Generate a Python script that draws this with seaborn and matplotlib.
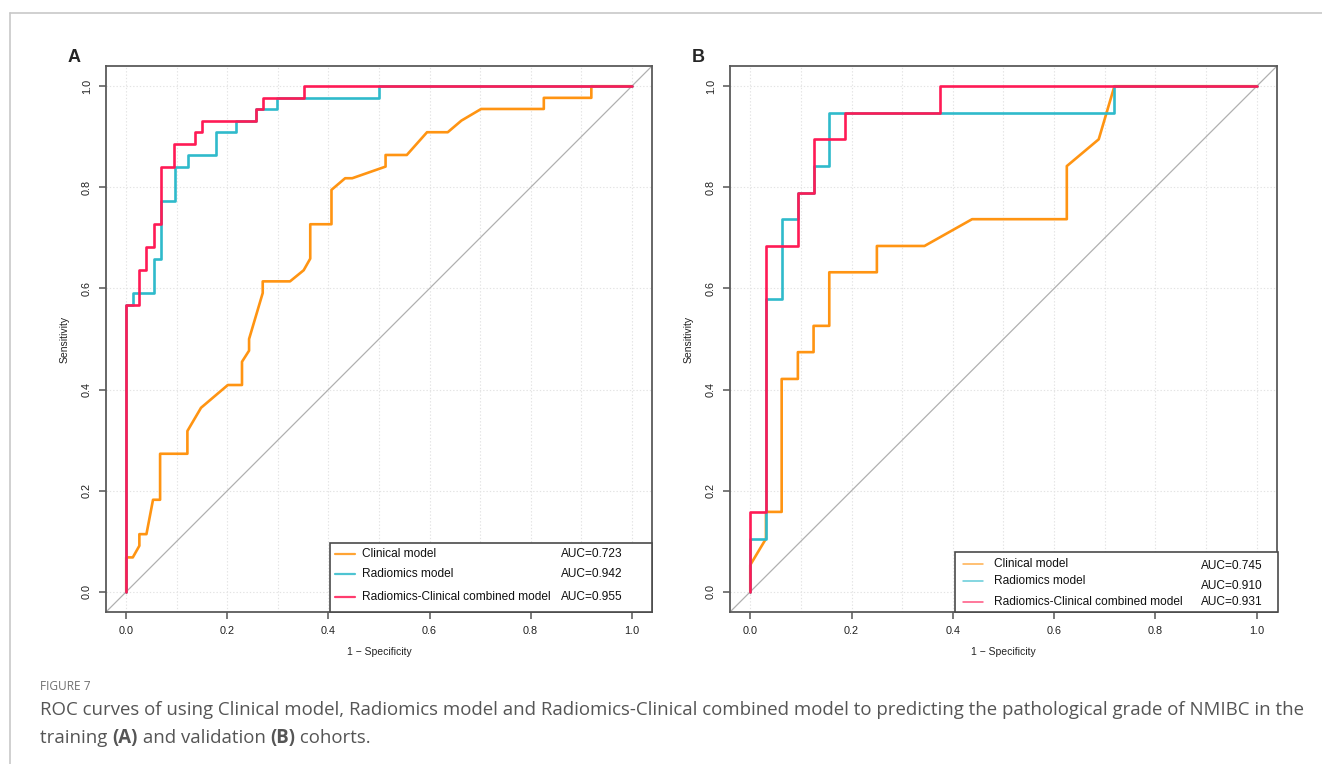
import numpy as np
import pandas as pd
import matplotlib
matplotlib.use("Agg")
import matplotlib.pyplot as plt
from matplotlib.patches import Rectangle
from matplotlib.lines import Line2D
import seaborn as sns

# ---------------- ROC data: training cohort ----------------
train_clin_fpr = [0, 0, 0.013, 0.026, 0.026, 0.040, 0.053, 0.067, 0.067, 0.121, 0.121, 0.148,
                  0.201, 0.229, 0.229, 0.243, 0.243, 0.270, 0.270, 0.324, 0.351, 0.364, 0.364,
                  0.406, 0.406, 0.433, 0.447, 0.513, 0.513, 0.555, 0.595, 0.636, 0.663, 0.702,
                  0.826, 0.826, 0.920, 0.920, 1.0]
train_clin_tpr = [0, 0.068, 0.068, 0.091, 0.114, 0.114, 0.182, 0.182, 0.273, 0.273, 0.318, 0.364,
                  0.409, 0.409, 0.455, 0.477, 0.500, 0.591, 0.614, 0.614, 0.636, 0.659, 0.727,
                  0.727, 0.795, 0.818, 0.818, 0.841, 0.864, 0.864, 0.909, 0.909, 0.932, 0.955,
                  0.955, 0.977, 0.977, 1.0, 1.0]

train_rad_fpr = [0, 0, 0.014, 0.014, 0.055, 0.055, 0.068, 0.068, 0.096, 0.096, 0.122, 0.122,
                 0.177, 0.177, 0.217, 0.217, 0.257, 0.257, 0.298, 0.298, 0.500, 0.500, 1.0]
train_rad_tpr = [0, 0.568, 0.568, 0.591, 0.591, 0.659, 0.659, 0.773, 0.773, 0.841, 0.841, 0.864,
                 0.864, 0.909, 0.909, 0.932, 0.932, 0.955, 0.955, 0.977, 0.977, 1.0, 1.0]

train_comb_fpr = [0, 0, 0.026, 0.026, 0.040, 0.040, 0.054, 0.054, 0.068, 0.068, 0.095, 0.095,
                  0.136, 0.136, 0.150, 0.150, 0.256, 0.256, 0.270, 0.270, 0.351, 0.351, 1.0]
train_comb_tpr = [0, 0.568, 0.568, 0.636, 0.636, 0.682, 0.682, 0.727, 0.727, 0.841, 0.841, 0.886,
                  0.886, 0.909, 0.909, 0.932, 0.932, 0.955, 0.955, 0.977, 0.977, 1.0, 1.0]

# ---------------- ROC data: validation cohort ----------------
valid_clin_fpr = [0, 0, 0.031, 0.031, 0.062, 0.062, 0.094, 0.094, 0.125, 0.125, 0.156, 0.156,
                  0.250, 0.250, 0.344, 0.438, 0.625, 0.625, 0.688, 0.719, 1.0]
valid_clin_tpr = [0, 0.053, 0.105, 0.158, 0.158, 0.421, 0.421, 0.474, 0.474, 0.526, 0.526, 0.632,
                  0.632, 0.684, 0.684, 0.737, 0.737, 0.842, 0.895, 1.0, 1.0]

valid_rad_fpr = [0, 0, 0.031, 0.031, 0.062, 0.062, 0.094, 0.094, 0.125, 0.125, 0.156, 0.156,
                 0.719, 0.719, 1.0]
valid_rad_tpr = [0, 0.105, 0.105, 0.579, 0.579, 0.737, 0.737, 0.789, 0.789, 0.842, 0.842, 0.947,
                 0.947, 1.0, 1.0]

valid_comb_fpr = [0, 0, 0.031, 0.031, 0.094, 0.094, 0.125, 0.125, 0.188, 0.188, 0.375, 0.375, 1.0]
valid_comb_tpr = [0, 0.158, 0.158, 0.684, 0.684, 0.789, 0.789, 0.895, 0.895, 0.947, 0.947, 1.0, 1.0]

model_names = ["Clinical model", "Radiomics model", "Radiomics-Clinical combined model"]
train_auc = [0.723, 0.942, 0.955]
valid_auc = [0.745, 0.910, 0.931]

palette = {"Clinical model": "#FF9412",
           "Radiomics model": "#2FBACB",
           "Radiomics-Clinical combined model": "#FF1A55"}


def roc_frame(curves):
    parts = []
    for name, (fpr, tpr) in zip(model_names, curves):
        parts.append(pd.DataFrame({"fpr": fpr, "tpr": tpr, "model": name}))
    return pd.concat(parts, ignore_index=True)


train_df = roc_frame([(train_clin_fpr, train_clin_tpr),
                      (train_rad_fpr, train_rad_tpr),
                      (train_comb_fpr, train_comb_tpr)])
valid_df = roc_frame([(valid_clin_fpr, valid_clin_tpr),
                      (valid_rad_fpr, valid_rad_tpr),
                      (valid_comb_fpr, valid_comb_tpr)])

sns.set_style("white")
plt.rcParams["font.family"] = ["Liberation Sans", "DejaVu Sans"]

W, H = 1322, 764
fig = plt.figure(figsize=(W / 100, H / 100), dpi=100)

# page frame
fig.add_artist(Line2D([10 / W, 1.0], [1 - 13 / H, 1 - 13 / H], color="#c8c8c8", lw=1.2))
fig.add_artist(Line2D([10 / W, 10 / W], [0, 1 - 13 / H], color="#c8c8c8", lw=1.2))

ax_a = fig.add_axes([106 / W, 1 - 612 / H, 546 / W, 546 / H])
ax_b = fig.add_axes([730 / W, 1 - 612 / H, 547 / W, 546 / H])


def style_panel(ax, df):
    ax.set_xlim(-0.04, 1.04)
    ax.set_ylim(-0.04, 1.04)
    for v in np.arange(0, 1.01, 0.1):
        ax.axvline(v, color="#e3e3e3", lw=0.8, ls=(0, (1.2, 1.8)), zorder=0)
    for v in np.arange(0, 1.01, 0.2):
        ax.axhline(v, color="#e3e3e3", lw=0.8, ls=(0, (1.2, 1.8)), zorder=0)
    ax.axline((0, 0), (1, 1), color="#b0b0b0", lw=0.9, zorder=1)
    sns.lineplot(data=df, x="fpr", y="tpr", hue="model", units="model", sort=False,
                 estimator=None, palette=palette, lw=1.9, legend=False, ax=ax, zorder=3)
    ticks = [0.0, 0.2, 0.4, 0.6, 0.8, 1.0]
    ax.set_xticks(ticks)
    ax.set_yticks(ticks)
    ax.set_xticklabels([f"{t:.1f}" for t in ticks])
    ax.set_yticklabels([f"{t:.1f}" for t in ticks], rotation=90, va="center")
    ax.tick_params(axis="both", direction="out", length=5, width=1.1, color="#555555",
                   labelsize=7.8, labelcolor="#222222", pad=5, left=True, bottom=True)
    ax.set_xlabel("1 \u2212 Specificity", fontsize=7.5, color="#222222", labelpad=8)
    ax.set_ylabel("Sensitivity", fontsize=7.5, color="#222222", labelpad=9)
    for s in ax.spines.values():
        s.set_color("#5a5a5a")
        s.set_linewidth(1.3)


style_panel(ax_a, train_df)
style_panel(ax_b, valid_df)

leg_size = 8.6

# legend of the training panel
ax_a.add_patch(Rectangle((0.410, 0.0), 0.59, 0.127, transform=ax_a.transAxes, fill=True,
                         facecolor="white", edgecolor="#4a4a4a", lw=1.2, zorder=5, clip_on=False))
for name, auc, yy in zip(model_names, train_auc, [0.106, 0.069, 0.028]):
    ax_a.add_line(Line2D([0.419, 0.456], [yy, yy], transform=ax_a.transAxes,
                         color=palette[name], lw=1.6, alpha=0.85, zorder=6))
    ax_a.text(0.468, yy, name, transform=ax_a.transAxes, fontsize=leg_size, va="center",
              ha="left", color="#111111", zorder=6)
    ax_a.text(0.833, yy, f"AUC={auc:.3f}", transform=ax_a.transAxes, fontsize=leg_size,
              va="center", ha="left", color="#111111", zorder=6)

# legend of the validation panel
ax_b.add_patch(Rectangle((0.411, 0.0), 0.59, 0.109, transform=ax_b.transAxes, fill=True,
                         facecolor="white", edgecolor="#4a4a4a", lw=1.2, zorder=5, clip_on=False))
for name, auc, yy, ya in zip(model_names, valid_auc, [0.087, 0.057, 0.019], [0.084, 0.048, 0.019]):
    ax_b.add_line(Line2D([0.426, 0.462], [yy, yy], transform=ax_b.transAxes,
                         color=palette[name], lw=1.1, alpha=0.75, zorder=6))
    ax_b.text(0.483, yy, name, transform=ax_b.transAxes, fontsize=leg_size, va="center",
              ha="left", color="#111111", zorder=6)
    ax_b.text(0.861, ya, f"AUC={auc:.3f}", transform=ax_b.transAxes, fontsize=leg_size,
              va="center", ha="left", color="#111111", zorder=6)

# panel letters
fig.text(68 / W, 1 - 57 / H, "A", fontsize=13, fontweight="bold", va="center", ha="left")
fig.text(692 / W, 1 - 57 / H, "B", fontsize=13, fontweight="bold", va="center", ha="left")

# caption
cap_font = ["Open Sans", "DejaVu Sans"]
cap_size = 13.4
fig.text(40 / W, 1 - 686 / H, "FIGURE 7", fontsize=8.6, color="#707070", va="center",
         ha="left", family=cap_font)
fig.text(40 / W, 1 - 710 / H,
         "ROC curves of using Clinical model, Radiomics model and Radiomics-Clinical combined "
         "model to predicting the pathological grade of NMIBC in the",
         fontsize=cap_size, color="#555555", va="center", ha="left", family=cap_font)
cap2 = [("training ", "normal"), ("(A)", "bold"), (" and validation ", "normal"),
        ("(B)", "bold"), (" cohorts.", "normal")]
fig.canvas.draw()
renderer = fig.canvas.get_renderer()
x_px = 40
for txt, wt in cap2:
    t = fig.text(x_px / W, 1 - 738 / H, txt, fontsize=cap_size, color="#555555", va="center",
                 ha="left", family=cap_font, fontweight=wt)
    bb = t.get_window_extent(renderer=renderer)
    x_px += bb.width

fig.savefig("out.png", dpi=100)
